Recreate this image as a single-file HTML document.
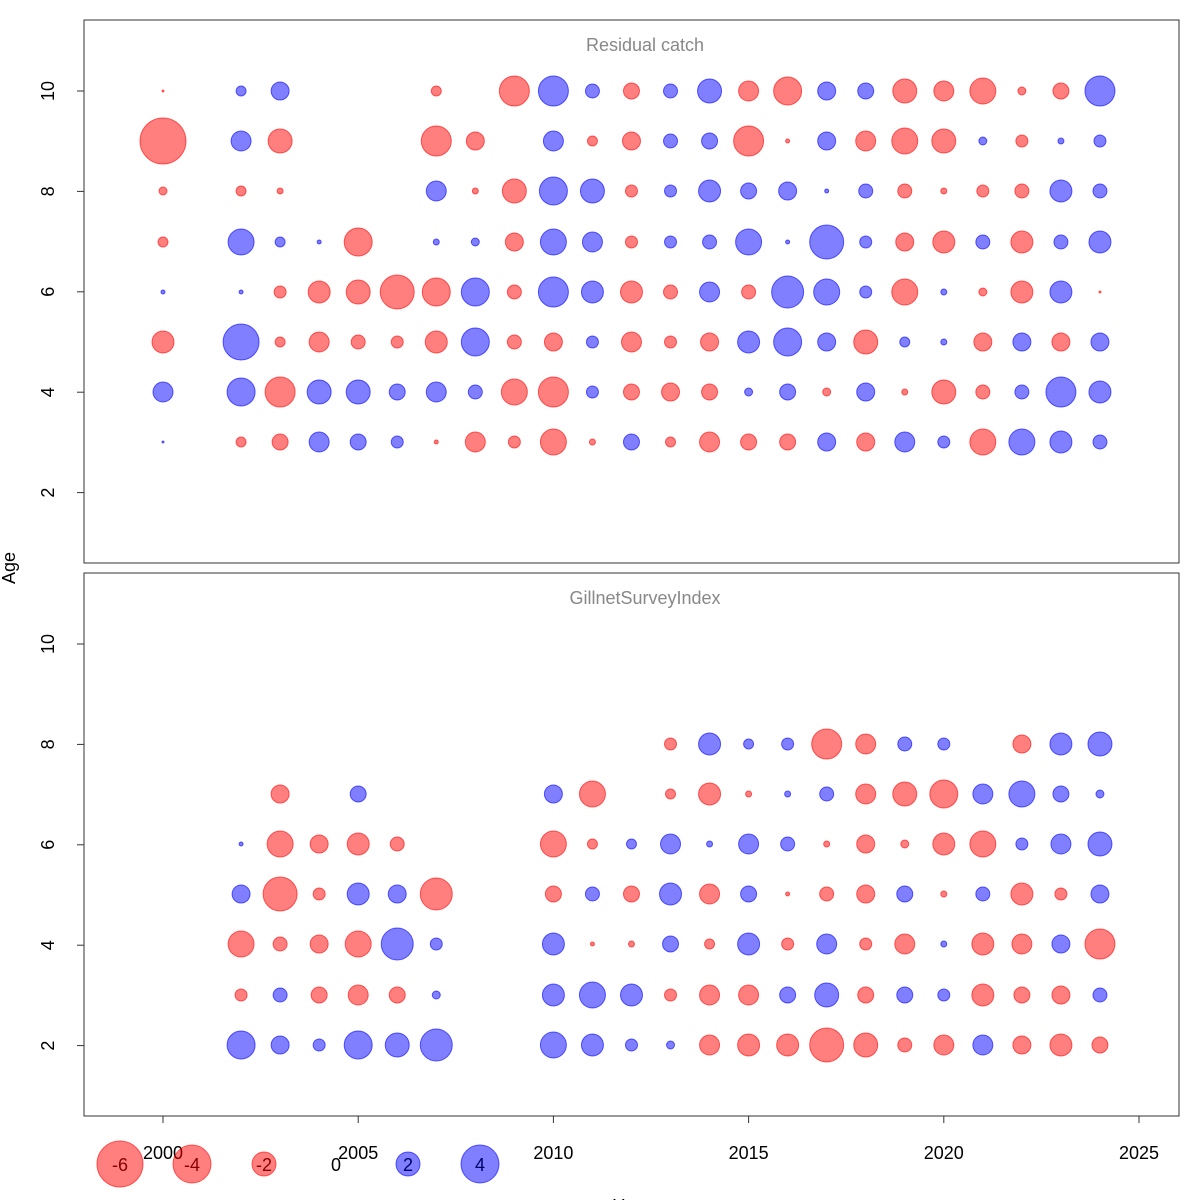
<!DOCTYPE html>
<html><head><meta charset="utf-8"><style>
body{margin:0;background:#fff}
svg{display:block;font-family:"Liberation Sans",sans-serif}
</style></head><body>
<svg id="s" width="1200" height="1200" xmlns="http://www.w3.org/2000/svg">
<rect width="1200" height="1200" fill="#fff"/>
<rect x="84" y="20" width="1095" height="543" fill="none" stroke="#333" stroke-width="1"/>
<rect x="84" y="573" width="1095" height="543" fill="none" stroke="#333" stroke-width="1"/>
<text x="645" y="51" font-size="18" fill="#888" text-anchor="middle">Residual catch</text>
<text x="645" y="604" font-size="18" fill="#888" text-anchor="middle">GillnetSurveyIndex</text>
<text transform="translate(15,568) rotate(-90)" font-size="18" text-anchor="middle">Age</text>
<text x="631" y="1212" font-size="18" text-anchor="middle">Year</text>
<g id="g"></g>
</svg>
<script>
(function(){
var g=document.getElementById('g');var h='';
function X(y){return 163+(y-2000)*39.04;}
var TOPM={10:91,9:141,8:191,7:242,6:292,5:342,4:392,3:442};
var BOTM={8:744,7:794,6:844,5:894,4:944,3:995,2:1045};
function c(x,y,r,col){var f=col=='r'?'rgba(255,0,0,0.5)':'rgba(0,0,255,0.5)';var s=col=='r'?'rgba(255,0,0,0.6)':'rgba(0,0,255,0.6)';h+='<circle cx="'+x+'" cy="'+y+'" r="'+r+'" fill="'+f+'" stroke="'+s+'" stroke-width="1"/>';}
function rows(map,data){for(var a in data){data[a].trim().split(/\s+/).forEach(function(t){var m=t.match(/(\d+)([rb])(\d+)/);c(X(+m[1]),map[a],+m[3],m[2]);});}}
rows(TOPM,{
10:"2000r1 2002b5 2003b9 2007r5 2009r15 2010b15 2011b7 2012r8 2013b7 2014b12 2015r10 2016r14 2017b9 2018b8 2019r12 2020r10 2021r13 2022r4 2023r8 2024b15",
9:"2000r23 2002b10 2003r12 2007r15 2008r9 2010b10 2011r5 2012r9 2013b7 2014b8 2015r15 2016r2 2017b9 2018r10 2019r13 2020r12 2021b4 2022r6 2023b3 2024b6",
8:"2000r4 2002r5 2003r3 2007b10 2008r3 2009r12 2010b14 2011b12 2012r6 2013b6 2014b11 2015b8 2016b9 2017b2 2018b7 2019r7 2020r3 2021r6 2022r7 2023b11 2024b7",
7:"2000r5 2002b13 2003b5 2004b2 2005r14 2007b3 2008b4 2009r9 2010b13 2011b10 2012r6 2013b6 2014b7 2015b13 2016b2 2017b17 2018b6 2019r9 2020r11 2021b7 2022r11 2023b7 2024b11",
6:"2000b2 2002b2 2003r6 2004r11 2005r12 2006r17 2007r14 2008b14 2009r7 2010b15 2011b11 2012r11 2013r7 2014b10 2015r7 2016b16 2017b13 2018b6 2019r13 2020b3 2021r4 2022r11 2023b11 2024r1",
5:"2000r11 2002b18 2003r5 2004r10 2005r7 2006r6 2007r11 2008b14 2009r7 2010r9 2011b6 2012r10 2013r6 2014r9 2015b11 2016b14 2017b9 2018r12 2019b5 2020b3 2021r9 2022b9 2023r9 2024b9",
4:"2000b10 2002b14 2003r15 2004b12 2005b12 2006b8 2007b10 2008b7 2009r13 2010r15 2011b6 2012r8 2013r9 2014r8 2015b4 2016b8 2017r4 2018b9 2019r3 2020r12 2021r7 2022b7 2023b15 2024b11",
3:"2000b1 2002r5 2003r8 2004b10 2005b8 2006b6 2007r2 2008r10 2009r6 2010r13 2011r3 2012b8 2013r5 2014r10 2015r8 2016r8 2017b9 2018r9 2019b10 2020b6 2021r13 2022b13 2023b11 2024b7"});
rows(BOTM,{
8:"2013r6 2014b11 2015b5 2016b6 2017r15 2018r10 2019b7 2020b6 2022r9 2023b11 2024b12",
7:"2003r9 2005b8 2010b9 2011r13 2013r5 2014r11 2015r3 2016b3 2017b7 2018r10 2019r12 2020r14 2021b10 2022b13 2023b8 2024b4",
6:"2002b2 2003r13 2004r9 2005r11 2006r7 2010r13 2011r5 2012b5 2013b10 2014b3 2015b10 2016b7 2017r3 2018r9 2019r4 2020r11 2021r13 2022b6 2023b10 2024b12",
5:"2002b9 2003r17 2004r6 2005b11 2006b9 2007r16 2010r8 2011b7 2012r8 2013b11 2014r10 2015b8 2016r2 2017r7 2018r9 2019b8 2020r3 2021b7 2022r11 2023r6 2024b9",
4:"2002r13 2003r7 2004r9 2005r13 2006b16 2007b6 2010b11 2011r2 2012r3 2013b8 2014r5 2015b11 2016r6 2017b10 2018r6 2019r10 2020b3 2021r11 2022r10 2023b9 2024r15",
3:"2002r6 2003b7 2004r8 2005r10 2006r8 2007b4 2010b11 2011b13 2012b11 2013r6 2014r10 2015r10 2016b8 2017b12 2018r8 2019b8 2020b6 2021r11 2022r8 2023r9 2024b7",
2:"2002b14 2003b9 2004b6 2005b14 2006b12 2007b16 2010b13 2011b11 2012b6 2013b4 2014r10 2015r11 2016r11 2017r17 2018r12 2019r7 2020r10 2021b10 2022r9 2023r11 2024r8"});
[91,644].forEach(function(y10){[10,8,6,4,2].forEach(function(a){var y=y10+(10-a)*50.2;h+='<line x1="77" x2="84" y1="'+y+'" y2="'+y+'" stroke="#333"/><text transform="translate(54,'+y+') rotate(-90)" font-size="18" text-anchor="middle">'+a+'</text>';});});
h+='<line x1="'+X(2000)+'" x2="'+X(2025)+'" y1="1116" y2="1116" stroke="#333"/>';
for(var y=2000;y<=2025;y+=5){h+='<line x1="'+X(y)+'" x2="'+X(y)+'" y1="1116" y2="1123" stroke="#333"/><text x="'+X(y)+'" y="1159" font-size="18" text-anchor="middle">'+y+'</text>';}
[[120,23,'r','-6'],[192,19,'r','-4'],[264,12,'r','-2'],[336,0,'r','0'],[408,12,'b','2'],[480,19,'b','4']].forEach(function(L){if(L[1])c(L[0],1164,L[1],L[2]);h+='<text x="'+L[0]+'" y="1171" font-size="18" text-anchor="middle" fill="'+(L[1]?(L[2]=='r'?'#800':'#006'):'#000')+'">'+L[3]+'</text>';});
g.innerHTML=h;
})();
</script>
</body></html>
